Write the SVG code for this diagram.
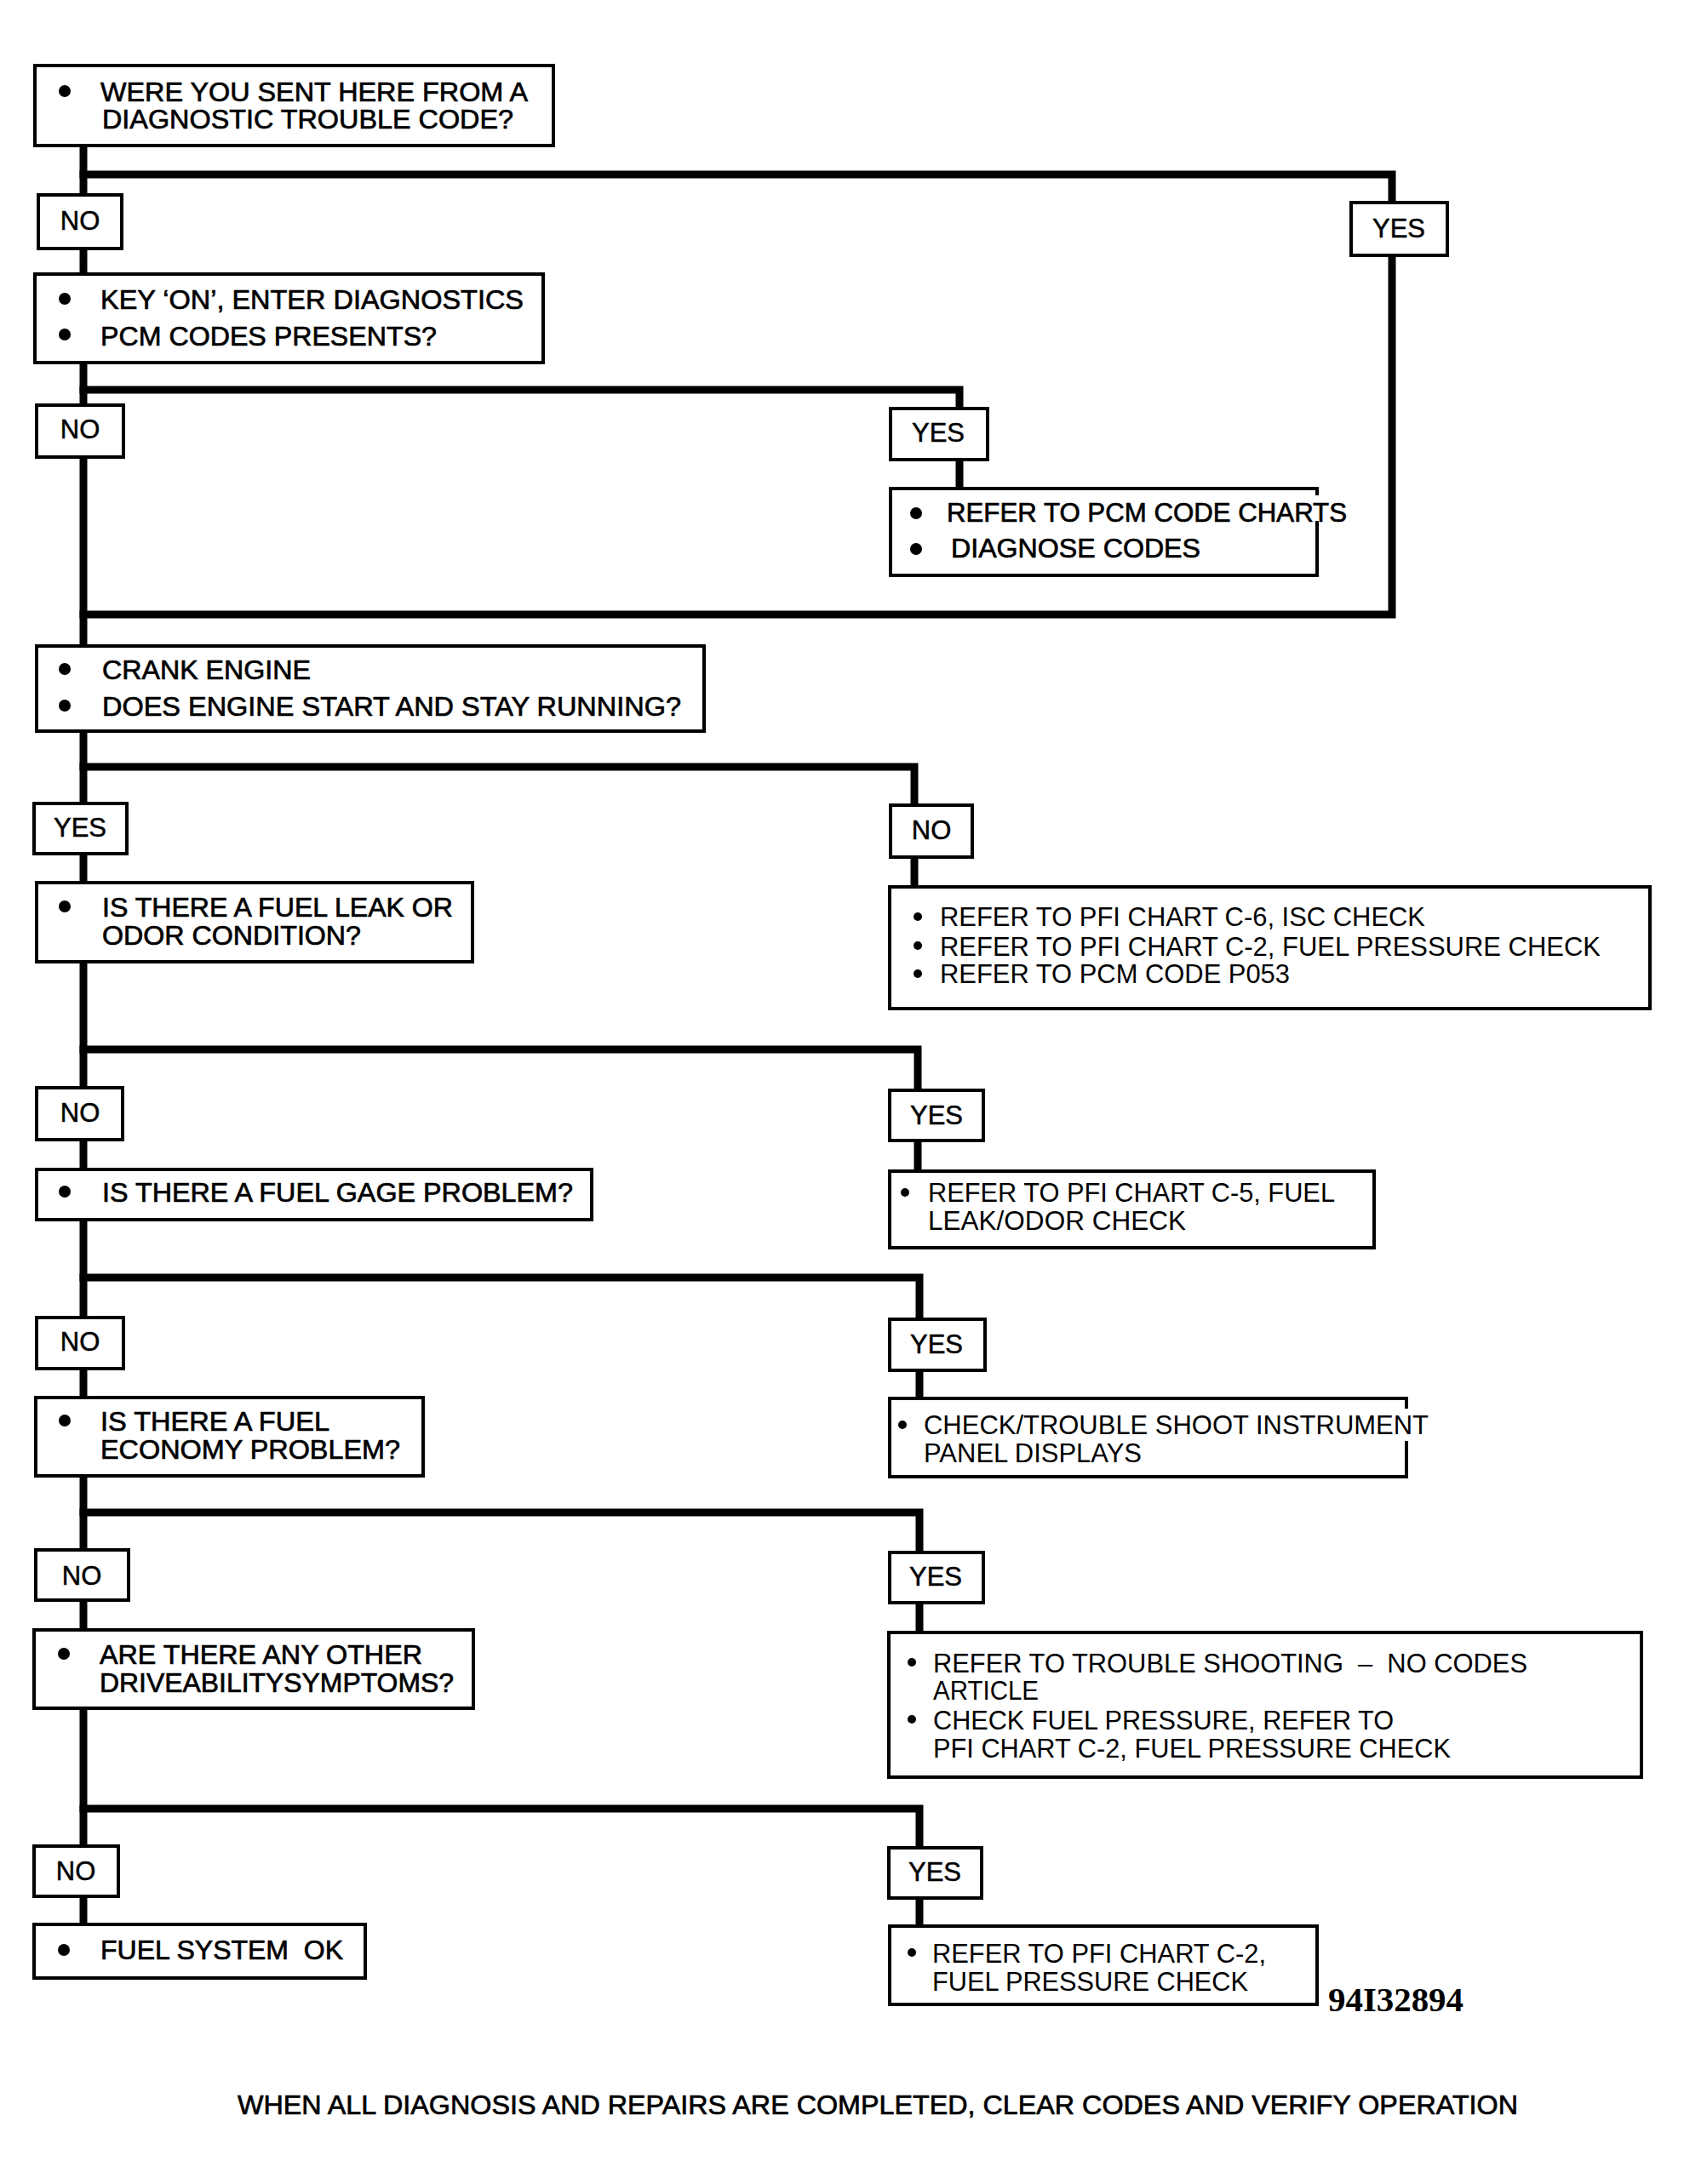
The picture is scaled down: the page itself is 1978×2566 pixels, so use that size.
<svg xmlns="http://www.w3.org/2000/svg" width="1978" height="2566" viewBox="0 0 1978 2566">
<style>
.bg{fill:#fff}
.box{fill:#fff;stroke:#000;stroke-width:4;stroke-linejoin:miter}
.con{fill:none;stroke:#000;stroke-width:9;stroke-linejoin:miter;stroke-linecap:square}
.t{font-family:"Liberation Sans",Arial,Helvetica,sans-serif;font-size:32px;fill:#000;stroke:#000;stroke-width:0.7}
.tl{font-family:"Liberation Sans",Arial,Helvetica,sans-serif;font-size:31px;fill:#000}
.lbl{font-family:"Liberation Sans",Arial,Helvetica,sans-serif;font-size:31px;fill:#000;stroke:#000;stroke-width:0.5;text-anchor:middle}
.code{font-family:"Liberation Serif","Times New Roman",serif;font-size:40px;font-weight:bold;fill:#000}
.b{fill:#000}
</style>
<rect class="bg" x="0" y="0" width="1978" height="2566"/>

<g id="connectors">
<line class="con" x1="98" y1="171" x2="98" y2="2261"/>
<polyline class="con" points="98,205 1635,205 1635,722 98,722"/>
<polyline class="con" points="98,458 1127,458 1127,574"/>
<polyline class="con" points="98,901 1074,901 1074,1042"/>
<polyline class="con" points="98,1233 1078,1233 1078,1376"/>
<polyline class="con" points="98,1501 1080,1501 1080,1643"/>
<polyline class="con" points="98,1777 1080,1777 1080,1918"/>
<polyline class="con" points="98,2125 1080,2125 1080,2263"/>
</g>

<g id="q1">
<rect class="box" x="41" y="77" width="609" height="94"/>
<circle class="b" cx="76" cy="107" r="7"/>
<text class="t" x="118" y="119" textLength="502" lengthAdjust="spacingAndGlyphs">WERE YOU SENT HERE FROM A</text>
<text class="t" x="120" y="151" textLength="483" lengthAdjust="spacingAndGlyphs">DIAGNOSTIC TROUBLE CODE?</text>
</g>
<g id="no1"><rect class="box" x="45" y="229" width="98" height="63"/><text class="lbl" x="94" y="270">NO</text></g>
<g id="yes1"><rect class="box" x="1587" y="238" width="113" height="62"/><text class="lbl" x="1643" y="279">YES</text></g>

<g id="q2">
<rect class="box" x="41" y="322" width="597" height="104"/>
<circle class="b" cx="76" cy="351" r="7"/>
<circle class="b" cx="76" cy="393" r="7"/>
<text class="t" x="118" y="363" textLength="497" lengthAdjust="spacingAndGlyphs">KEY ‘ON’, ENTER DIAGNOSTICS</text>
<text class="t" x="118" y="406" textLength="395" lengthAdjust="spacingAndGlyphs">PCM CODES PRESENTS?</text>
</g>
<g id="no2"><rect class="box" x="43" y="476" width="102" height="61"/><text class="lbl" x="94" y="515">NO</text></g>
<g id="yes2"><rect class="box" x="1046" y="480" width="114" height="60"/><text class="lbl" x="1102" y="519">YES</text></g>

<g id="a1">
<path class="box" d="M1547,582 V574 H1046 V676 H1547 V612"/>
<circle class="b" cx="1076" cy="603" r="7"/>
<circle class="b" cx="1076" cy="645" r="7"/>
<text class="t" x="1112" y="613" textLength="470" lengthAdjust="spacingAndGlyphs">REFER TO PCM CODE CHARTS</text>
<text class="t" x="1117" y="655" textLength="293" lengthAdjust="spacingAndGlyphs">DIAGNOSE CODES</text>
</g>

<g id="q3">
<rect class="box" x="43" y="759" width="784" height="100"/>
<circle class="b" cx="76" cy="786" r="7"/>
<circle class="b" cx="76" cy="829" r="7"/>
<text class="t" x="120" y="798" textLength="245" lengthAdjust="spacingAndGlyphs">CRANK ENGINE</text>
<text class="t" x="120" y="841" textLength="680" lengthAdjust="spacingAndGlyphs">DOES ENGINE START AND STAY RUNNING?</text>
</g>
<g id="yes3"><rect class="box" x="40" y="944" width="109" height="59"/><text class="lbl" x="94" y="983">YES</text></g>
<g id="no3"><rect class="box" x="1046" y="946" width="96" height="61"/><text class="lbl" x="1094" y="986">NO</text></g>

<g id="a3">
<rect class="box" x="1045" y="1042" width="893" height="143"/>
<circle class="b" cx="1078" cy="1077" r="5"/>
<circle class="b" cx="1078" cy="1111" r="5"/>
<circle class="b" cx="1078" cy="1144" r="5"/>
<text class="tl" x="1104" y="1088" textLength="570" lengthAdjust="spacingAndGlyphs">REFER TO PFI CHART C-6, ISC CHECK</text>
<text class="tl" x="1104" y="1123" textLength="776" lengthAdjust="spacingAndGlyphs">REFER TO PFI CHART C-2, FUEL PRESSURE CHECK</text>
<text class="tl" x="1104" y="1155" textLength="411" lengthAdjust="spacingAndGlyphs">REFER TO PCM CODE P053</text>
</g>

<g id="q4">
<rect class="box" x="43" y="1037" width="512" height="93"/>
<circle class="b" cx="76" cy="1065" r="7"/>
<text class="t" x="120" y="1077" textLength="412" lengthAdjust="spacingAndGlyphs">IS THERE A FUEL LEAK OR</text>
<text class="t" x="120" y="1110" textLength="304" lengthAdjust="spacingAndGlyphs">ODOR CONDITION?</text>
</g>
<g id="no4"><rect class="box" x="43" y="1278" width="101" height="61"/><text class="lbl" x="94" y="1318">NO</text></g>
<g id="yes4"><rect class="box" x="1045" y="1281" width="110" height="59"/><text class="lbl" x="1100" y="1321">YES</text></g>

<g id="a4">
<rect class="box" x="1045" y="1376" width="569" height="90"/>
<circle class="b" cx="1063" cy="1401" r="5"/>
<text class="tl" x="1090" y="1412" textLength="478" lengthAdjust="spacingAndGlyphs">REFER TO PFI CHART C-5, FUEL</text>
<text class="tl" x="1090" y="1445" textLength="303" lengthAdjust="spacingAndGlyphs">LEAK/ODOR CHECK</text>
</g>

<g id="q5">
<rect class="box" x="43" y="1374" width="652" height="59"/>
<circle class="b" cx="76" cy="1400" r="7"/>
<text class="t" x="120" y="1412" textLength="553" lengthAdjust="spacingAndGlyphs">IS THERE A FUEL GAGE PROBLEM?</text>
</g>
<g id="no5"><rect class="box" x="43" y="1548" width="102" height="60"/><text class="lbl" x="94" y="1587">NO</text></g>
<g id="yes5"><rect class="box" x="1045" y="1550" width="112" height="60"/><text class="lbl" x="1100" y="1590">YES</text></g>

<g id="a5">
<path class="box" d="M1652,1655 V1643 H1045 V1735 H1652 V1693"/>
<circle class="b" cx="1060" cy="1674" r="5"/>
<text class="tl" x="1085" y="1685" textLength="593" lengthAdjust="spacingAndGlyphs">CHECK/TROUBLE SHOOT INSTRUMENT</text>
<text class="tl" x="1085" y="1718" textLength="256" lengthAdjust="spacingAndGlyphs">PANEL DISPLAYS</text>
</g>

<g id="q6">
<rect class="box" x="42" y="1642" width="455" height="92"/>
<circle class="b" cx="76" cy="1669" r="7"/>
<text class="t" x="118" y="1681" textLength="269" lengthAdjust="spacingAndGlyphs">IS THERE A FUEL</text>
<text class="t" x="118" y="1714" textLength="352" lengthAdjust="spacingAndGlyphs">ECONOMY PROBLEM?</text>
</g>
<g id="no6"><rect class="box" x="42" y="1821" width="109" height="59"/><text class="lbl" x="96" y="1862">NO</text></g>
<g id="yes6"><rect class="box" x="1045" y="1824" width="110" height="59"/><text class="lbl" x="1099" y="1863">YES</text></g>

<g id="a6">
<rect class="box" x="1044" y="1918" width="884" height="170"/>
<circle class="b" cx="1071" cy="1953" r="5"/>
<circle class="b" cx="1071" cy="2020" r="5"/>
<text class="tl" x="1096" y="1965" textLength="698" lengthAdjust="spacingAndGlyphs" xml:space="preserve">REFER TO TROUBLE SHOOTING  –  NO CODES</text>
<text class="tl" x="1096" y="1997" textLength="124" lengthAdjust="spacingAndGlyphs">ARTICLE</text>
<text class="tl" x="1096" y="2032" textLength="541" lengthAdjust="spacingAndGlyphs">CHECK FUEL PRESSURE, REFER TO</text>
<text class="tl" x="1096" y="2065" textLength="608" lengthAdjust="spacingAndGlyphs">PFI CHART C-2, FUEL PRESSURE CHECK</text>
</g>

<g id="q7">
<rect class="box" x="40" y="1915" width="516" height="92"/>
<circle class="b" cx="75" cy="1943" r="7"/>
<text class="t" x="117" y="1955" textLength="379" lengthAdjust="spacingAndGlyphs">ARE THERE ANY OTHER</text>
<text class="t" x="117" y="1988" textLength="416" lengthAdjust="spacingAndGlyphs">DRIVEABILITYSYMPTOMS?</text>
</g>
<g id="no7"><rect class="box" x="40" y="2169" width="99" height="59"/><text class="lbl" x="89" y="2209">NO</text></g>
<g id="yes7"><rect class="box" x="1044" y="2171" width="109" height="59"/><text class="lbl" x="1098" y="2210">YES</text></g>

<g id="end">
<rect class="box" x="40" y="2261" width="389" height="63"/>
<circle class="b" cx="75" cy="2291" r="7"/>
<text class="t" x="118" y="2302" textLength="285" lengthAdjust="spacingAndGlyphs" xml:space="preserve">FUEL SYSTEM  OK</text>
</g>

<g id="a7">
<rect class="box" x="1045" y="2263" width="502" height="92"/>
<circle class="b" cx="1071" cy="2294" r="5"/>
<text class="tl" x="1095" y="2306" textLength="392" lengthAdjust="spacingAndGlyphs">REFER TO PFI CHART C-2,</text>
<text class="tl" x="1095" y="2339" textLength="371" lengthAdjust="spacingAndGlyphs">FUEL PRESSURE CHECK</text>
</g>

<text class="code" x="1560" y="2363" textLength="159" lengthAdjust="spacingAndGlyphs">94I32894</text>
<text class="t" x="279" y="2484" textLength="1504" lengthAdjust="spacingAndGlyphs">WHEN ALL DIAGNOSIS AND REPAIRS ARE COMPLETED, CLEAR CODES AND VERIFY OPERATION</text>
</svg>
